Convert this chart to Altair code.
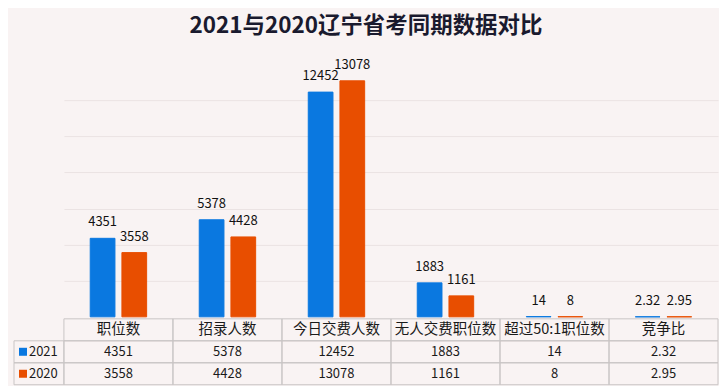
import altair as alt
import pandas as pd

categories = ["职位数", "招录人数", "今日交费人数", "无人交费职位数", "超过50:1职位数", "竞争比"]
series = ["2021", "2020"]
values_2021 = [4351, 5378, 12452, 1883, 14, 2.32]
values_2020 = [3558, 4428, 13078, 1161, 8, 2.95]
labels_2021 = ["4351", "5378", "12452", "1883", "14", "2.32"]
labels_2020 = ["3558", "4428", "13078", "1161", "8", "2.95"]
colors = ["#0a78e0", "#e84e00"]
grid_values = [2000, 4000, 6000, 8000, 10000, 12000]
table_rows = ["header", "2021", "2020"]

FONT = "Noto Sans CJK SC"
BG = "#f9f3f3"

recs = []
for i, c in enumerate(categories):
    recs.append({"category": c, "series": "2021", "value": values_2021[i], "label": labels_2021[i]})
    recs.append({"category": c, "series": "2020", "value": values_2020[i], "label": labels_2020[i]})
df = pd.DataFrame(recs)

x = alt.X("category:N", sort=categories,
          scale=alt.Scale(domain=categories, paddingInner=0, paddingOuter=0), axis=None)
xo = alt.XOffset("series:N", sort=series,
                 scale=alt.Scale(domain=series, paddingInner=0.22, paddingOuter=0.83))
y = alt.Y("value:Q", scale=alt.Scale(domain=[0, 14000], nice=False),
          axis=alt.Axis(values=grid_values, labels=False, ticks=False, domain=False,
                        grid=True, gridColor="#ebe3e3", title=None))
color = alt.Color("series:N", sort=series, scale=alt.Scale(domain=series, range=colors), legend=None)

bars = alt.Chart(df).mark_bar(strokeWidth=1).encode(
    x=x, xOffset=xo, y=y, color=color,
    stroke=alt.Stroke("series:N", sort=series, scale=alt.Scale(domain=series, range=colors), legend=None))
labels = alt.Chart(df).mark_text(baseline="alphabetic", dy=-12, fontSize=13, font=FONT,
                                 color="#111111").encode(x=x, xOffset=xo, y=y, text="label:N")
top = alt.layer(bars, labels).properties(
    width=655, height=253, view=alt.ViewBackground(strokeWidth=0, strokeOpacity=0))

# data table
trecs = []
for i, c in enumerate(categories):
    trecs.append({"category": c, "row": "header", "text": c, "kind": "h"})
    trecs.append({"category": c, "row": "2021", "text": labels_2021[i], "kind": "v"})
    trecs.append({"category": c, "row": "2020", "text": labels_2020[i], "kind": "v"})
tdf = pd.DataFrame(trecs)

tx = alt.X("category:N", sort=categories,
           scale=alt.Scale(domain=categories, paddingInner=0, paddingOuter=0), axis=None)
ty = alt.Y("row:N", sort=table_rows,
           scale=alt.Scale(domain=table_rows, paddingInner=0, paddingOuter=0), axis=None)

cells = alt.Chart(tdf).mark_rect(fill="transparent", stroke="#c9c5c5", strokeWidth=1).encode(x=tx, y=ty)
head_text = alt.Chart(tdf).transform_filter("datum.kind == 'h'").mark_text(
    fontSize=14.5, font=FONT, color="#1a1a1a").encode(x=tx, y=ty, text="text:N")
val_text = alt.Chart(tdf).transform_filter("datum.kind == 'v'").mark_text(
    fontSize=13, font=FONT, color="#1a1a1a").encode(x=tx, y=ty, text="text:N")

ldf = pd.DataFrame({"row": series, "series": series})
left_cells = alt.Chart(ldf).mark_rect(fill="transparent", stroke="#c9c5c5", strokeWidth=1).encode(
    x=alt.value(-50), x2=alt.value(0), y=ty)
left_sq = alt.Chart(ldf).mark_square(size=64, opacity=1).encode(
    x=alt.value(-41), y=ty, color=color)
left_txt = alt.Chart(ldf).mark_text(align="left", fontSize=13, font=FONT, color="#1a1a1a").encode(
    x=alt.value(-35), y=ty, text="series:N")

table = alt.layer(cells, head_text, val_text, left_cells, left_sq, left_txt).properties(
    width=655, height=66, view=alt.ViewBackground(strokeWidth=0, strokeOpacity=0))

chart = alt.vconcat(top, table, spacing=0).properties(
    title=alt.Title("2021与2020辽宁省考同期数据对比", fontSize=22.5, font=FONT, fontWeight="bold",
                    color="#1a1a2e", anchor="middle", offset=21),
    padding={"left": 5, "top": 7, "right": 0, "bottom": 0},
).configure_view(strokeWidth=0, strokeOpacity=0).configure(background=BG)

chart.save("out.html", embed_options={"renderer": "svg", "actions": False})
